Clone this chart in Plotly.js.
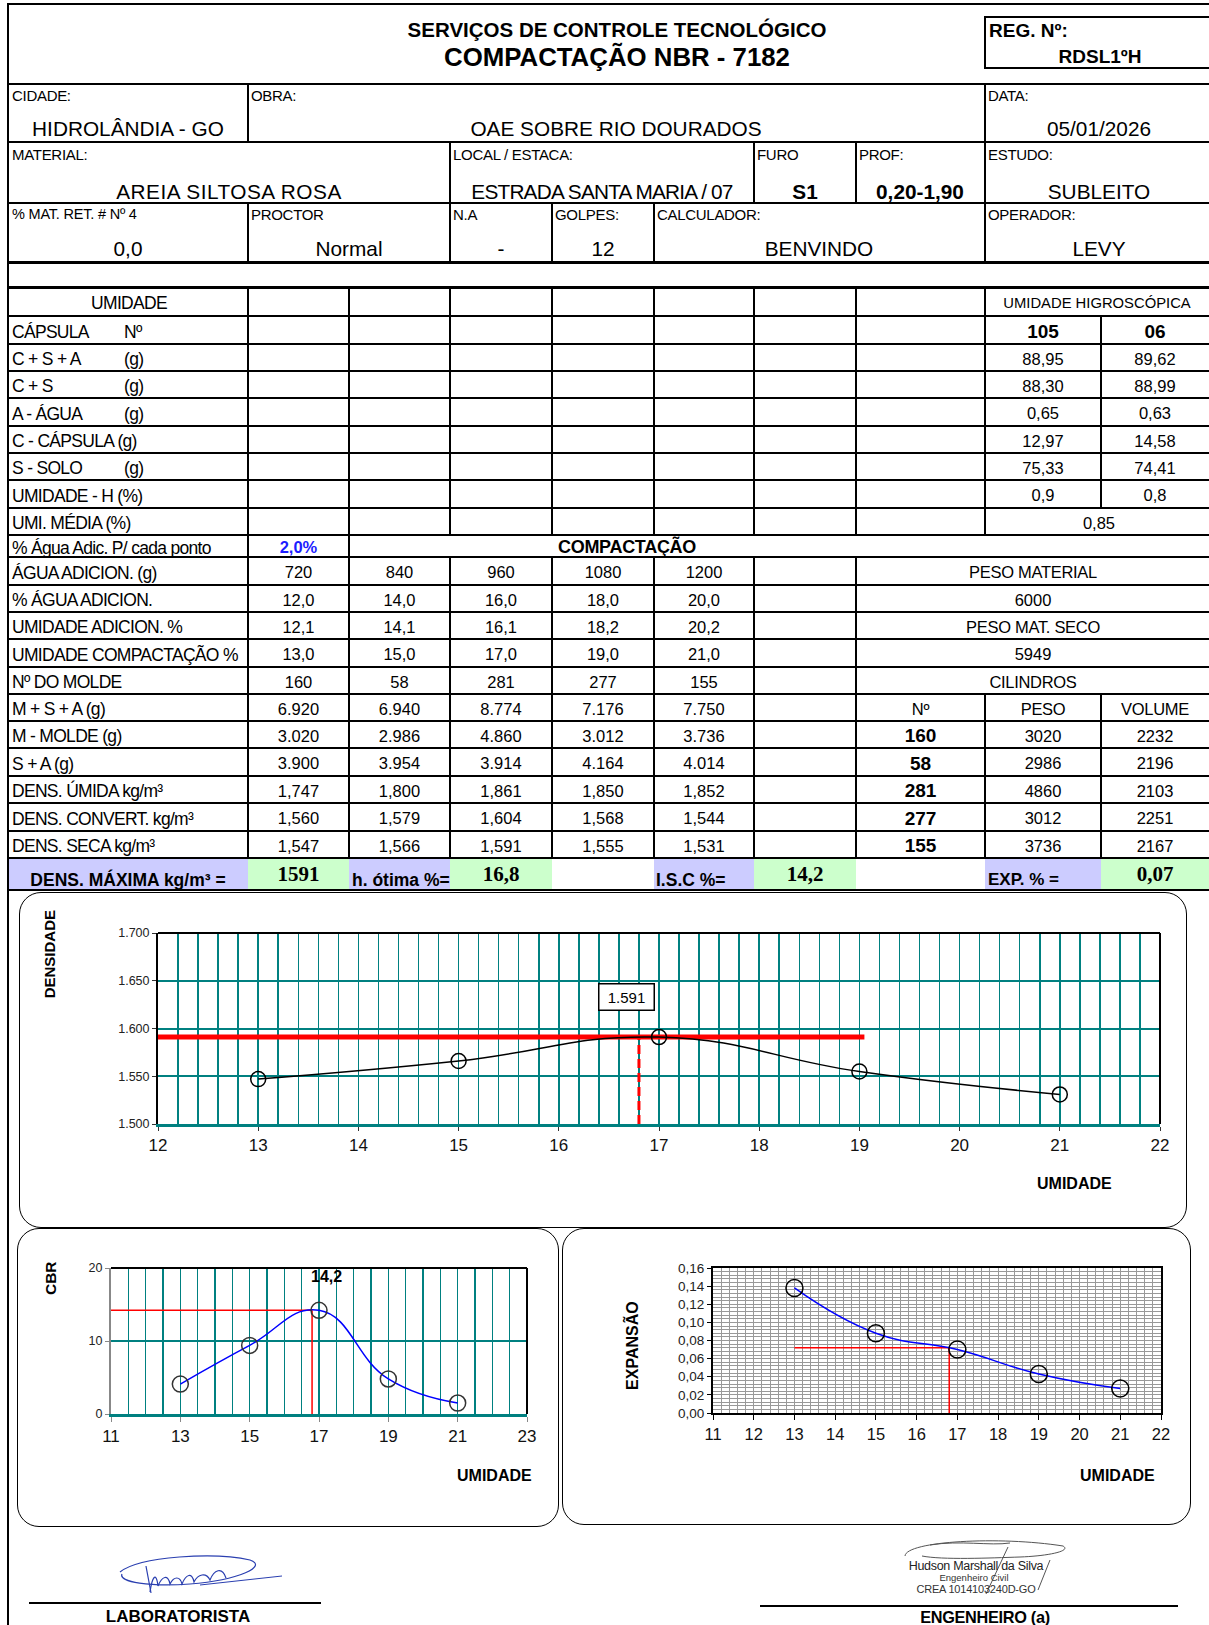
<!DOCTYPE html>
<html><head><meta charset="utf-8">
<script src="https://cdn.plot.ly/plotly-3.0.1.min.js"></script>
<style>
html,body{margin:0;padding:0;background:#fff;}
#page{position:relative;width:1209px;height:1625px;overflow:hidden;font-family:"Liberation Sans",Arial,sans-serif;color:#000;background:#fff;}
.t{position:absolute;white-space:nowrap;line-height:1.2;}
.l{position:absolute;background:#000;}
.panel{position:absolute;border:1.5px solid #000;border-radius:22px;background:#fff;box-sizing:border-box;}
.chart{position:absolute;}
</style></head><body><div id="page"></div>
<script>
// ================= DATA =================
const titleLine1 = 'SERVIÇOS DE CONTROLE TECNOLÓGICO';
const titleLine2 = 'COMPACTAÇÃO NBR - 7182';
const regNumber = 'RDSL1ºH';
const cidade = 'HIDROLÂNDIA - GO';
const obra = 'OAE SOBRE RIO DOURADOS';
const dataEnsaio = '05/01/2026';
const material = 'AREIA SILTOSA ROSA';
const localEstaca = 'ESTRADA SANTA MARIA / 07';
const furo = 'S1';
const prof = '0,20-1,90';
const estudo = 'SUBLEITO';
const matRet = '0,0';
const proctor = 'Normal';
const na = '-';
const golpes = '12';
const calculador = 'BENVINDO';
const operador = 'LEVY';

// Umidade higroscópica
const higroLabels = ['CÁPSULA', 'C + S + A', 'C + S', 'A - ÁGUA', 'C - CÁPSULA (g)', 'S - SOLO', 'UMIDADE - H (%)', 'UMI. MÉDIA (%)'];
const higroUnits = ['Nº', '(g)', '(g)', '(g)', '', '(g)', '', ''];
const capsulaNo = ['105', '06'];
const pesoCSA = [88.95, 89.62];
const pesoCS = [88.30, 88.99];
const pesoAgua = [0.65, 0.63];
const pesoCapsula = [12.97, 14.58];
const pesoSolo = [75.33, 74.41];
const umidadeH = [0.9, 0.8];
const umidadeMedia = 0.85;
const aguaPorPonto = '2,0%';

// Compactação
const compLabels = ['ÁGUA ADICION. (g)', '% ÁGUA ADICION.', 'UMIDADE ADICION. %', 'UMIDADE COMPACTAÇÃO %', 'Nº DO MOLDE', 'M + S + A (g)', 'M - MOLDE (g)', 'S + A (g)', 'DENS. ÚMIDA kg/m³', 'DENS. CONVERT. kg/m³', 'DENS. SECA kg/m³'];
const aguaAdic = [720, 840, 960, 1080, 1200];
const pctAguaAdic = [12.0, 14.0, 16.0, 18.0, 20.0];
const umidAdic = [12.1, 14.1, 16.1, 18.2, 20.2];
const umidComp = [13.0, 15.0, 17.0, 19.0, 21.0];
const moldeNo = [160, 58, 281, 277, 155];
const pesoMSA = [6920, 6940, 8774, 7176, 7750];
const pesoMolde = [3020, 2986, 4860, 3012, 3736];
const pesoSA = [3900, 3954, 3914, 4164, 4014];
const densUmida = [1.747, 1.800, 1.861, 1.850, 1.852];
const densConvert = [1.560, 1.579, 1.604, 1.568, 1.544];
const densSeca = [1.547, 1.566, 1.591, 1.555, 1.531];

const rightLabels = ['PESO MATERIAL', '6000', 'PESO MAT. SECO', '5949', 'CILINDROS'];
const cilHeaders = ['Nº', 'PESO', 'VOLUME'];
const cilNo = [160, 58, 281, 277, 155];
const cilPeso = [3020, 2986, 4860, 3012, 3736];
const cilVolume = [2232, 2196, 2103, 2251, 2167];

// Resultados
const densMaxima = 1.591;
const hOtima = 16.8;
const iscOtimo = 14.2;
const expOtima = 0.072;

// Ensaio CBR / expansão
const cbrValues = [4.1, 9.4, 14.2, 4.8, 1.5];
const expValues = [0.138, 0.088, 0.070, 0.043, 0.027];
const densMaxLineX = [12, 19.05];
const cbrLineStartX = 11;
const expLineStartX = 13;

// ================= LAYOUT HELPERS =================
const page = document.getElementById('page');
const colX = [8, 248, 349, 450, 552, 654, 754, 856, 985, 1101, 1209];
const rowY = [287, 316, 344, 371, 398, 426, 453, 480, 508, 535, 557, 585, 612, 639, 667, 694, 721, 748, 776, 803, 831, 858, 890];
const cc = i => (colX[i] + colX[i + 1]) / 2;
const rc = i => (rowY[i] + rowY[i + 1]) / 2 + 2;

function el(cls, css) { const d = document.createElement('div'); d.className = cls; d.style.cssText = css; page.appendChild(d); return d; }
function H(x1, x2, y, w = 2) { el('l', `left:${x1}px;top:${y - w / 2}px;width:${x2 - x1}px;height:${w}px;`); }
function V(x, y1, y2, w = 2) { el('l', `left:${x - w / 2}px;top:${y1}px;width:${w}px;height:${y2 - y1}px;`); }
function F(x1, y1, x2, y2, c) { el('l', `left:${x1}px;top:${y1}px;width:${x2 - x1}px;height:${y2 - y1}px;background:${c};`); }
function T(s, x, y, o = {}) {
  const size = o.size || 16.5;
  const k = o.k || 0.59;
  let css = `font-size:${size}px;top:${y - k * size}px;`;
  if (o.bold) css += 'font-weight:bold;';
  if (o.ls) css += `letter-spacing:${o.ls}px;`;
  if (o.color) css += `color:${o.color};`;
  if (o.family) css += `font-family:${o.family};`;
  if (o.c) css += `left:${x - 300}px;width:600px;text-align:center;`;
  else css += `left:${x}px;`;
  const d = el('t', css); d.textContent = s; return d;
}
const comma = (v, d) => v.toFixed(d).replace('.', ',');
const thou = v => String(v).replace(/\B(?=(\d{3})+(?!\d))/g, '.');

// ================= HEADER =================
H(7, 1209, 4, 2.5);
V(8, 3, 1625, 2);
T(titleLine1, 617, 30, {size: 20.5, bold: 1, c: 1});
T(titleLine2, 617, 57, {size: 25.8, bold: 1, c: 1});
el('l', 'left:984px;top:16px;width:240px;height:53px;background:transparent;border:2px solid #000;box-sizing:border-box;');
T('REG. Nº:', 989, 31, {size: 19, bold: 1});
T(regNumber, 1100, 57, {size: 19, bold: 1, c: 1});

H(8, 1209, 84, 2.5); H(8, 1209, 142, 2); H(8, 1209, 203, 2); H(8, 1209, 262, 3); H(8, 1209, 287, 3);
V(248, 84, 142); V(985, 84, 142);
V(450, 142, 203); V(754, 142, 203); V(856, 142, 203); V(985, 142, 203);
V(248, 203, 262); V(450, 203, 262); V(552, 203, 262); V(654, 203, 262); V(985, 203, 262);

const LB = {size: 15, ls: -0.3};
const HV = {size: 20.8, c: 1};
T('CIDADE:', 12, 96, LB); T('OBRA:', 251, 96, LB); T('DATA:', 988, 96, LB);
T(cidade, 128, 129, HV);
T(obra, 616, 129, HV);
T(dataEnsaio, 1099, 129, HV);
T('MATERIAL:', 12, 155, LB); T('LOCAL / ESTACA:', 453, 155, LB); T('FURO', 757, 155, LB); T('PROF:', 859, 155, LB); T('ESTUDO:', 988, 155, LB);
T(material, 229, 192, {size: 20.8, c: 1, ls: 0.5});
T(localEstaca, 602, 192, {size: 20.8, c: 1, ls: -0.8});
T(furo, 805, 192, {size: 20.8, c: 1, bold: 1});
T(prof, 920, 192, {size: 20.8, c: 1, bold: 1});
T(estudo, 1099, 192, HV);
T('% MAT. RET. # Nº 4', 12, 215, {size: 14.5, ls: -0.2}); T('PROCTOR', 251, 215, LB); T('N.A', 453, 215, LB); T('GOLPES:', 555, 215, LB); T('CALCULADOR:', 657, 215, LB); T('OPERADOR:', 988, 215, LB);
T(matRet, 128, 249, HV);
T(proctor, 349, 249, HV);
T(na, 501, 249, HV);
T(golpes, 603, 249, HV);
T(calculador, 819, 249, HV);
T(operador, 1099, 249, HV);

// ================= TABLE =================
for (let i = 1; i < rowY.length; i++) H(8, 1209, rowY[i], i === rowY.length - 1 ? 2.5 : 2);
for (let c = 1; c <= 8; c++) V(colX[c], rowY[0], rowY[9]);
V(colX[9], rowY[1], rowY[8]);
V(colX[1], rowY[9], rowY[10]); V(colX[2], rowY[9], rowY[10]);
for (let c = 1; c <= 7; c++) V(colX[c], rowY[10], rowY[15]);
for (let c = 1; c <= 9; c++) V(colX[c], rowY[15], rowY[21]);

const TL = {size: 17.5, ls: -0.7};
const TV = {size: 16.5, c: 1};
T('UMIDADE', 129, rc(0), {size: 17.5, ls: -0.7, c: 1});
T('UMIDADE HIGROSCÓPICA', 1097, rc(0), {size: 14.8, c: 1});
higroLabels.forEach((s, i) => {
  T(s, 12, rc(i + 1), TL);
  if (higroUnits[i]) T(higroUnits[i], 124, rc(i + 1), TL);
});
T(capsulaNo[0], cc(8), rc(1), {size: 19, bold: 1, c: 1});
T(capsulaNo[1], cc(9), rc(1), {size: 19, bold: 1, c: 1});
[pesoCSA, pesoCS, pesoAgua, pesoCapsula, pesoSolo].forEach((arr, r) => {
  arr.forEach((v, j) => T(comma(v, 2), cc(8 + j), rc(r + 2), TV));
});
umidadeH.forEach((v, j) => T(comma(v, 1), cc(8 + j), rc(7), TV));
T(comma(umidadeMedia, 2), 1099, rc(8), TV);

T('% Água Adic. P/ cada ponto', 12, rc(9), TL);
T(aguaPorPonto, cc(1), rc(9), {size: 16.5, bold: 1, c: 1, color: '#1c1cff'});
T('COMPACTAÇÃO', 627, rc(9), {size: 18, bold: 1, c: 1, ls: -0.3});

const compRows = [
  aguaAdic.map(v => String(v)),
  pctAguaAdic.map(v => comma(v, 1)),
  umidAdic.map(v => comma(v, 1)),
  umidComp.map(v => comma(v, 1)),
  moldeNo.map(v => String(v)),
  pesoMSA.map(thou),
  pesoMolde.map(thou),
  pesoSA.map(thou),
  densUmida.map(v => comma(v, 3)),
  densConvert.map(v => comma(v, 3)),
  densSeca.map(v => comma(v, 3))
];
compLabels.forEach((s, i) => {
  T(s, 12, rc(10 + i), TL);
  compRows[i].forEach((v, j) => T(v, cc(1 + j), rc(10 + i), TV));
});
rightLabels.forEach((s, i) => T(s, 1033, rc(10 + i), {size: 16.5, c: 1, ls: i % 2 === 0 ? -0.3 : 0}));
cilHeaders.forEach((s, j) => T(s, cc(7 + j), rc(15), {size: 16.5, c: 1, ls: -0.3}));
cilNo.forEach((v, i) => {
  T(String(v), cc(7), rc(16 + i), {size: 19, bold: 1, c: 1});
  T(String(cilPeso[i]), cc(8), rc(16 + i), TV);
  T(String(cilVolume[i]), cc(9), rc(16 + i), TV);
});

// result row
const lav = '#ccccff', grn = '#ccffcc';
const y1r = rowY[21] + 1, y2r = rowY[22] - 1;
F(9, y1r, 248, y2r, lav); F(248, y1r, 349, y2r, grn); F(349, y1r, 450, y2r, lav); F(450, y1r, 552, y2r, grn);
F(654, y1r, 754, y2r, lav); F(754, y1r, 856, y2r, grn); F(985, y1r, 1101, y2r, lav); F(1101, y1r, 1209, y2r, grn);
const yR = 880, yN = 875;
const SER = {size: 21, bold: 1, c: 1, family: '"Liberation Serif","Times New Roman",serif', k: 0.61};
T('DENS. MÁXIMA kg/m³ =', 128, yR, {size: 17.5, bold: 1, c: 1});
T(String(Math.round(densMaxima * 1000)), cc(1), yN, SER);
T('h. ótima %=', 352, yR, {size: 17.5, bold: 1});
T(comma(hOtima, 1), cc(3), yN, SER);
T('I.S.C %=', 656, yR, {size: 17.5, bold: 1});
T(comma(iscOtimo, 1), cc(6), yN, SER);
T('EXP. % =', 988, yR, {size: 17, bold: 1});
T(comma(expOtima, 2), cc(9), yN, SER);

// ================= PANELS =================
el('panel', 'left:19px;top:892px;width:1168px;height:336px;');
el('panel', 'left:17px;top:1228px;width:542px;height:299px;');
el('panel', 'left:562px;top:1228px;width:629px;height:297px;');

// ================= CHARTS =================
const FONT = 'Liberation Sans, Arial, sans-serif';
const TEAL = '#008080';
function chartDiv(l, t, w, h) { return el('chart', `left:${l}px;top:${t}px;width:${w}px;height:${h}px;`); }
const border = (c = '#000', w = 2) => [
  {type: 'line', xref: 'paper', yref: 'paper', x0: 0, x1: 1, y0: 1, y1: 1, line: {color: c, width: w}},
  {type: 'line', xref: 'paper', yref: 'paper', x0: 1, x1: 1, y0: 0, y1: 1, line: {color: c, width: w}}
];
const lab = (text, x, y, size, angle) => ({x, y, xref: 'paper', yref: 'paper', xanchor: 'center', yanchor: 'middle',
  text: '<b>' + text + '</b>', textangle: angle || 0, showarrow: false, font: {size, color: '#000'}});
const cfg = {staticPlot: true, displayModeBar: false};

// Density chart
const dDiv = chartDiv(20, 893, 1165, 333);
Plotly.newPlot(dDiv, [
  {x: densMaxLineX, y: [densMaxima, densMaxima], mode: 'lines', line: {color: '#ff0000', width: 5}, hoverinfo: 'skip'},
  {x: [hOtima, hOtima], y: [1.5, densMaxima], mode: 'lines', line: {color: '#ff0000', width: 3, dash: '9px,5px'}, hoverinfo: 'skip'},
  {x: umidComp, y: densSeca, mode: 'lines+markers', line: {color: '#000', width: 1.5, shape: 'spline', smoothing: 1.3},
   marker: {symbol: 'circle-open', size: 15, color: '#000', line: {width: 1.5, color: '#000'}}, hoverinfo: 'skip'}
], {
  width: 1165, height: 333, margin: {l: 138, r: 25, t: 40, b: 102},
  paper_bgcolor: 'rgba(0,0,0,0)', plot_bgcolor: '#fff', showlegend: false, separators: '.,',
  font: {family: FONT, color: '#111'},
  xaxis: {range: [12, 22], tick0: 12, dtick: 1, showgrid: true, gridcolor: TEAL, gridwidth: 1.5,
    minor: {dtick: 0.2, showgrid: true, gridcolor: TEAL, gridwidth: 1.5},
    showline: true, linecolor: TEAL, linewidth: 3, ticks: 'outside', ticklen: 4, tickcolor: '#333',
    tickfont: {size: 17, color: '#111'}, zeroline: false},
  yaxis: {range: [1.5, 1.7], dtick: 0.05, tickformat: '.3f', showgrid: true, gridcolor: TEAL, gridwidth: 2,
    showline: true, linecolor: '#000', linewidth: 2, ticks: 'outside', ticklen: 4, tickcolor: '#333',
    tickfont: {size: 12.5, color: '#222'}, zeroline: false},
  shapes: border(),
  annotations: [
    {x: 16.68, y: 1.633, xref: 'x', yref: 'y', xanchor: 'center', yanchor: 'middle', text: densMaxima.toFixed(3), showarrow: false, font: {size: 15, color: '#000'},
     bgcolor: '#fff', bordercolor: '#000', borderwidth: 1.5, borderpad: 3, width: 48, height: 19},
    lab('UMIDADE', 0.915, -0.309, 16),
    lab('DENSIDADE', -0.108, 0.887, 15, -90)
  ]
}, cfg);

// CBR chart
const cDiv = chartDiv(17, 1228, 542, 299);
Plotly.newPlot(cDiv, [
  {x: [cbrLineStartX, hOtima], y: [iscOtimo, iscOtimo], mode: 'lines', line: {color: '#ff0000', width: 1.5}, hoverinfo: 'skip'},
  {x: [hOtima, hOtima], y: [0, iscOtimo], mode: 'lines', line: {color: '#ff0000', width: 1.5}, hoverinfo: 'skip'},
  {x: umidComp, y: cbrValues, mode: 'lines', line: {color: '#0000ff', width: 1.5, shape: 'spline', smoothing: 1.3}, hoverinfo: 'skip'},
  {x: umidComp, y: cbrValues, mode: 'markers', marker: {symbol: 'circle-open', size: 16, color: '#333', line: {width: 1.5, color: '#333'}}, hoverinfo: 'skip', cliponaxis: false}
], {
  width: 542, height: 299, margin: {l: 94, r: 32, t: 40, b: 113},
  paper_bgcolor: 'rgba(0,0,0,0)', plot_bgcolor: '#fff', showlegend: false, separators: ',.',
  font: {family: FONT, color: '#111'},
  xaxis: {range: [11, 23], tick0: 11, dtick: 2, showgrid: true, gridcolor: TEAL, gridwidth: 1.5,
    minor: {dtick: 0.5, showgrid: true, gridcolor: TEAL, gridwidth: 1.5},
    showline: true, linecolor: TEAL, linewidth: 3, ticks: 'outside', ticklen: 5, tickcolor: '#888',
    tickfont: {size: 17, color: '#111'}, zeroline: false},
  yaxis: {range: [0, 20], dtick: 10, showgrid: true, gridcolor: TEAL, gridwidth: 2,
    showline: true, linecolor: '#888', linewidth: 2, ticks: 'outside', ticklen: 4, tickcolor: '#888',
    tickfont: {size: 12.5, color: '#222'}, zeroline: false},
  shapes: border(),
  annotations: [
    {x: 17.23, y: 18.8, xref: 'x', yref: 'y', xanchor: 'center', yanchor: 'middle', text: '<b>' + comma(iscOtimo, 1) + '</b>', showarrow: false, font: {size: 16, color: '#000'}},
    lab('UMIDADE', 0.921, -0.418, 16),
    lab('CBR', -0.147, 0.93, 15.5, -90)
  ]
}, cfg);

// Expansion chart
const eDiv = chartDiv(562, 1228, 629, 297);
Plotly.newPlot(eDiv, [
  {x: [expLineStartX, hOtima], y: [expOtima, expOtima], mode: 'lines', line: {color: '#ff0000', width: 1.5}, hoverinfo: 'skip'},
  {x: [hOtima, hOtima], y: [0, expOtima], mode: 'lines', line: {color: '#ff0000', width: 1.5}, hoverinfo: 'skip'},
  {x: umidComp, y: expValues, mode: 'lines', line: {color: '#0000ff', width: 1.5, shape: 'spline', smoothing: 1.3}, hoverinfo: 'skip'},
  {x: umidComp, y: expValues, mode: 'markers', marker: {symbol: 'circle-open', size: 17, color: '#000', line: {width: 1.5, color: '#000'}}, hoverinfo: 'skip', cliponaxis: false}
], {
  width: 629, height: 297, margin: {l: 151, r: 30, t: 40, b: 112},
  paper_bgcolor: 'rgba(0,0,0,0)', plot_bgcolor: '#fff', showlegend: false, separators: ',.',
  font: {family: FONT, color: '#111'},
  xaxis: {range: [11, 22], tick0: 11, dtick: 1, showgrid: true, gridcolor: '#999', gridwidth: 1,
    minor: {dtick: 0.2, showgrid: true, gridcolor: '#999', gridwidth: 1},
    showline: true, linecolor: '#000', linewidth: 2, mirror: true, ticks: 'outside', ticklen: 5, tickcolor: '#000',
    tickfont: {size: 16.5, color: '#111'}, zeroline: false},
  yaxis: {range: [0, 0.16], dtick: 0.02, tickformat: '.2f', showgrid: true, gridcolor: '#999', gridwidth: 1,
    minor: {dtick: 0.004, showgrid: true, gridcolor: '#999', gridwidth: 1},
    showline: true, linecolor: '#000', linewidth: 2, mirror: true, ticks: 'outside', ticklen: 4, tickcolor: '#000',
    tickfont: {size: 13.5, color: '#222'}, zeroline: false},
  annotations: [
    lab('UMIDADE', 0.902, -0.428, 16),
    lab('EXPANSÃO', -0.181, 0.469, 16, -90)
  ]
}, cfg);

// ================= SIGNATURES =================
H(29, 321, 1603, 1.5);
H(760, 1178, 1606, 1.5);
T('LABORATORISTA', 178, 1617, {size: 17, bold: 1, c: 1});
T('ENGENHEIRO (a)', 985, 1618, {size: 16.3, bold: 1, c: 1, ls: -0.3});
const svgNS = 'http://www.w3.org/2000/svg';
const svg = document.createElementNS(svgNS, 'svg');
svg.setAttribute('width', '1209'); svg.setAttribute('height', '1625');
svg.style.cssText = 'position:absolute;left:0;top:0;pointer-events:none;';
[
  ['M120,1572 C140,1556 215,1552 250,1560 C268,1566 240,1580 190,1584 C150,1587 118,1582 122,1574', '#2a3fb0', 1.2],
  ['M150,1592 C152,1578 156,1570 158,1586 C162,1576 168,1574 170,1584 C174,1576 180,1576 182,1584 C186,1574 192,1572 194,1582 C198,1574 206,1572 210,1580 C214,1570 222,1566 226,1578', '#2a3fb0', 1.2],
  ['M200,1585 L282,1576', '#2a3fb0', 1],
  ['M146,1566 L151,1593', '#2a3fb0', 1.2],
  ['M905,1556 C906,1541 1000,1536 1063,1546 C1072,1551 1048,1556 1020,1557 C990,1558 942,1560 922,1556', '#555', 1],
  ['M986,1594 L1008,1547', '#555', 1],
  ['M1038,1590 L1050,1560', '#555', 1],
  ['M930,1545 C960,1540 990,1546 1010,1543', '#555', 1]
].forEach(([d, c, w]) => {
  const p = document.createElementNS(svgNS, 'path');
  p.setAttribute('d', d); p.setAttribute('fill', 'none'); p.setAttribute('stroke', c); p.setAttribute('stroke-width', w);
  svg.appendChild(p);
});
page.appendChild(svg);
T('Hudson Marshall da Silva', 976, 1566, {size: 12.5, c: 1, ls: -0.3, color: '#222'});
T('Engenheiro Civil', 974, 1578, {size: 9.5, c: 1, color: '#333'});
T('CREA 1014103240D-GO', 976, 1589, {size: 11, c: 1, ls: -0.2, color: '#333'});
</script></body></html>
